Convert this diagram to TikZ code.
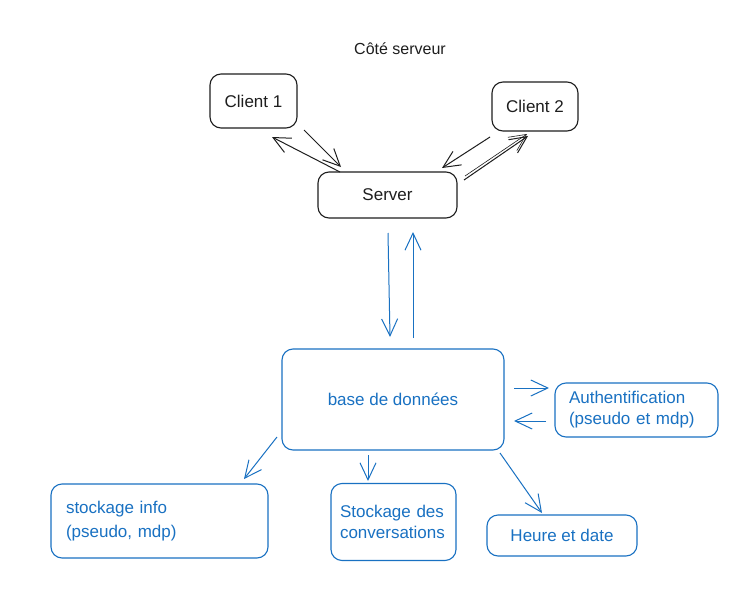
\documentclass[tikz,border=0pt]{standalone}
\usepackage{fontspec}
\setmainfont{Liberation Sans}
\usetikzlibrary{arrows.meta}
\definecolor{ink}{HTML}{1E1E1E}
\definecolor{blu}{HTML}{1971C2}
\begin{document}
\begin{tikzpicture}[x=1pt,y=-1pt,
  lbl/.style={font=\fontsize{17}{21}\selectfont},
  box/.style={lbl, draw=ink, line width=1.1pt, rounded corners=11pt, text=ink, inner sep=0pt},
  bbox/.style={box, draw=blu, text=blu},
  arr/.style={-{Straight Barb[length=17pt,width=16pt]}, line width=1pt, draw=ink},
  barr/.style={arr, draw=blu}]
\useasboundingbox[fill=white] (0,0) rectangle (748,600);
\node[text=ink, font=\fontsize{16}{19}\selectfont] (title) at (400,49) {Côté serveur};
\node[box, minimum width=87pt, minimum height=54pt] (c1) at (253.5,101) {Client 1};
\node[box, minimum width=86pt, minimum height=49pt] (c2) at (535,106.5) {Client 2};
\node[box, minimum width=139pt, minimum height=46pt] (srv) at (387.5,195) {Server};
\node[bbox, minimum width=222pt, minimum height=101pt] (db) at (393,399.5) {base de données};
\node[bbox, minimum width=163pt, minimum height=54pt, text width=135pt, align=left] (auth) at (636.5,410) {Authentification\\(pseudo et mdp)};
\node[bbox, minimum width=217pt, minimum height=74pt, text width=187pt, align=left, font=\fontsize{17}{24}\selectfont] (sinfo) at (159.5,521) {stockage info\\(pseudo, mdp)};
\node[bbox, minimum width=125pt, minimum height=77pt, text width=107pt, align=left] (sconv) at (393.5,522) {Stockage des\\conversations};
\node[bbox, minimum width=150pt, minimum height=41pt] (heure) at (562,535.5) {Heure et date};
% top connectors
\coordinate (a1s) at (340,172); \coordinate (a1e) at (272,137);
\coordinate (a2s) at (304,130); \coordinate (a2e) at (341,167);
\coordinate (a3s) at (490,137); \coordinate (a3e) at (442,168);
\coordinate (a4s) at (464,180); \coordinate (a4e) at (528,136);
\coordinate (a5s) at (465,176); \coordinate (a5e) at (527,134);
\draw[arr] (a1s) -- (a1e);
\draw[arr] (a2s) -- (a2e);
\draw[arr] (a3s) -- (a3e);
\draw[arr] (a4s) -- (a4e);
\draw[arr, line width=0.6pt] (a5s) -- (a5e);
% server <-> db
\coordinate (b1s) at (388,233); \coordinate (b1e) at (390,337);
\coordinate (b2s) at (413,338); \coordinate (b2e) at (413,232);
\draw[barr] (b1s) -- (b1e);
\draw[barr] (b2s) -- (b2e);
% db <-> auth
\coordinate (c1s) at (514,388); \coordinate (c1e) at (549,388);
\coordinate (c2s) at (546,421); \coordinate (c2e) at (514,421);
\draw[barr] (c1s) -- (c1e);
\draw[barr] (c2s) -- (c2e);
% db -> children
\coordinate (d1s) at (277,437); \coordinate (d1e) at (244,479);
\coordinate (d2s) at (368,455); \coordinate (d2e) at (368,481);
\coordinate (d3s) at (500,453); \coordinate (d3e) at (542,513);
\draw[barr] (d1s) -- (d1e);
\draw[barr] (d2s) -- (d2e);
\draw[barr] (d3s) -- (d3e);
\end{tikzpicture}
\end{document}
